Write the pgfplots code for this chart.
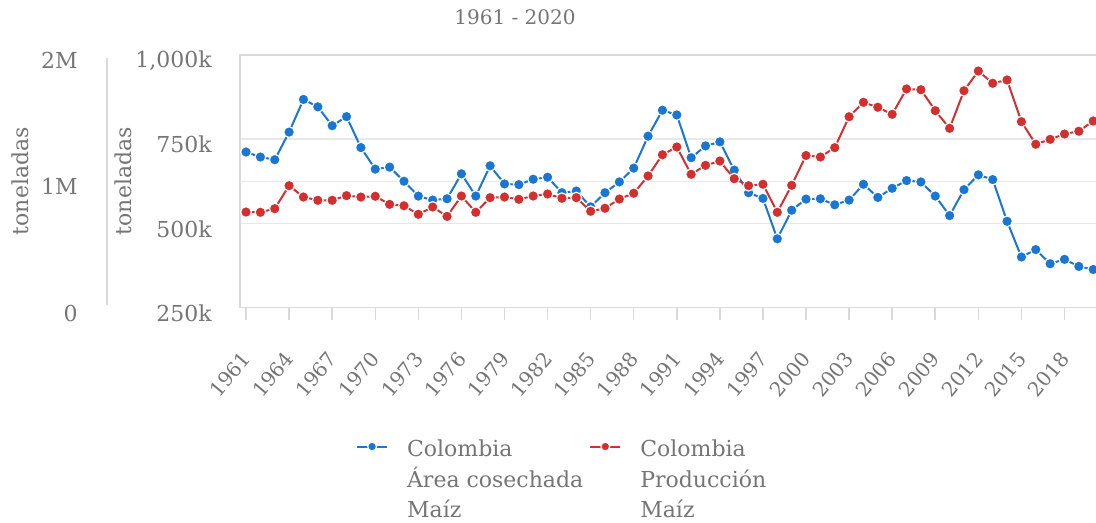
\documentclass[border=0pt]{standalone}
\usepackage{fontspec}
\setmainfont{DejaVu Serif}
\usepackage{pgfplots}
\usepackage{pgfplotstable}
\pgfplotsset{compat=1.18}

\definecolor{areablue}{HTML}{1976D2}
\definecolor{prodred}{HTML}{D32F2F}
\definecolor{txtgray}{HTML}{757575}
\definecolor{gridgray}{HTML}{E8E8E8}
\definecolor{axisgray}{HTML}{DADADA}

% Colombia, maize: harvested area (ha) and production (t)
\pgfplotstableread{
year area   prod
1961 711900 756000
1962 697000 754000
1963 689000 783000
1964 771000 965000
1965 868000 875000
1966 846000 849000
1967 790000 849000
1968 817000 886000
1969 725000 875000
1970 661000 881000
1971 667000 817000
1972 625000 806000
1973 581000 738000
1974 569000 796000
1975 573000 722000
1976 647000 883000
1977 581000 754000
1978 671000 870000
1979 617000 875000
1980 615000 857000
1981 631000 883000
1982 637000 899000
1983 591000 865000
1984 596000 870000
1985 549000 762000
1986 591000 786000
1987 623000 859000
1988 664000 905000
1989 759000 1042000
1990 836000 1210000
1991 822000 1271000
1992 695000 1055000
1993 730000 1126000
1994 742000 1160000
1995 658000 1020000
1996 591000 965000
1997 574000 976000
1998 454000 754000
1999 539000 968000
2000 572000 1204000
2001 573000 1192000
2002 555000 1266000
2003 569000 1511000
2004 616000 1625000
2005 577000 1586000
2006 604000 1530000
2007 627000 1731000
2008 623000 1725000
2009 581000 1559000
2010 523000 1419000
2011 600000 1717000
2012 644000 1873000
2013 630000 1776000
2014 506000 1802000
2015 400000 1472000
2016 422000 1293000
2017 380000 1332000
2018 393000 1374000
2019 372000 1396000
2020 363000 1477000
}\maizdata

\pgfplotsset{
  base/.style={
    at={(120pt,107.75pt)}, anchor=south west,
    scale only axis, width=435pt, height=126.25pt,
    xmin=1960.58, xmax=2021.17,
    clip=false, scaled y ticks=false,
    tick align=outside, major tick length=6.5pt,
    yticklabel style={font=\fontsize{11}{13}\selectfont, text=txtgray,
      anchor=east, inner sep=0pt, yshift=-2.75pt},
    every axis y label/.style={font=\fontsize{11}{13}\selectfont, text=txtgray,
      rotate=90, anchor=center},
  },
  serie/.style={#1, line width=1pt, mark=*, mark size=2.7pt,
    mark options={fill=#1, draw=white, line width=0.6pt}},
}
\newcommand{\entry}[1]{\begin{tabular}[t]{@{}l@{}}#1\end{tabular}}

\begin{document}
\begin{tikzpicture}
\path[use as bounding box] (0pt,0pt) rectangle (548pt,261.5pt);
\node[text=txtgray, font=\fontsize{10}{12}\selectfont] at (257.5pt,253pt) {1961 - 2020};

% harvested area, 250k - 1,000k scale
\begin{axis}[base,
  ymin=250000, ymax=1000000,
  axis line style={axisgray, line width=0.75pt},
  xtick={1961,1964,...,2018},
  xticklabels={1961,1964,1967,1970,1973,1976,1979,1982,1985,1988,1991,1994,1997,2000,2003,2006,2009,2012,2015,2018},
  xtick pos=left,
  xtick style={axisgray, line width=0.75pt},
  xticklabel style={font=\fontsize{10}{12}\selectfont, text=txtgray,
    xshift=-2.75pt, yshift=-14.5pt, rotate=50, anchor=north east, inner sep=0pt},
  ytick={250000,500000,750000,1000000},
  yticklabels={250k,500k,750k,{1,000k}},
  ytick style={draw=none},
  yticklabel style={xshift=-7.5pt},
  extra y ticks={625000}, extra y tick labels={},
  extra y tick style={grid=major, tick style={draw=none}},
  ymajorgrids, grid style={gridgray, line width=0.75pt},
  ylabel={toneladas},
  every axis y label/.append style={at={(axis description cs:-0.1345,0.5)}},
  legend columns=2,
  legend cell align=left,
  legend style={draw=none, fill=none, inner sep=0pt,
    at={(axis description cs:0.133,-0.489)}, anchor=north west,
    font=\fontsize{11}{15.25}\selectfont, text=txtgray,
    /tikz/every odd column/.append style={column sep=7.5pt},
    /tikz/every even column/.append style={column sep=1pt}},
  legend image code/.code={
    \draw[mark repeat=2, mark phase=2, mark size=2.2pt]
      plot coordinates {(0pt,0.5pt) (7.5pt,0.5pt) (15pt,0.5pt)};},
]
\addplot[serie=areablue] table[x=year, y=area] {\maizdata};
\addlegendentry{\entry{Colombia\\Área cosechada\\Maíz}}
\addlegendimage{serie=prodred}
\addlegendentry{\entry{Colombia\\Producción\\Maíz}}
\end{axis}

% production, 0 - 2M scale
\begin{axis}[base,
  ymin=0, ymax=2000000,
  axis line style={draw=none},
  xtick=\empty,
  ytick={0,1000000,2000000},
  yticklabels={0,1M,2M},
  ytick style={draw=none},
  yticklabel style={xshift=-74.5pt},
  ylabel={toneladas},
  every axis y label/.append style={at={(axis description cs:-0.2529,0.5)}},
]
\draw[axisgray, line width=0.75pt]
  (axis description cs:-0.1529,0.01) -- (axis description cs:-0.1529,0.99);
\addplot[serie=prodred] table[x=year, y=prod] {\maizdata};
\end{axis}
\end{tikzpicture}
\end{document}
